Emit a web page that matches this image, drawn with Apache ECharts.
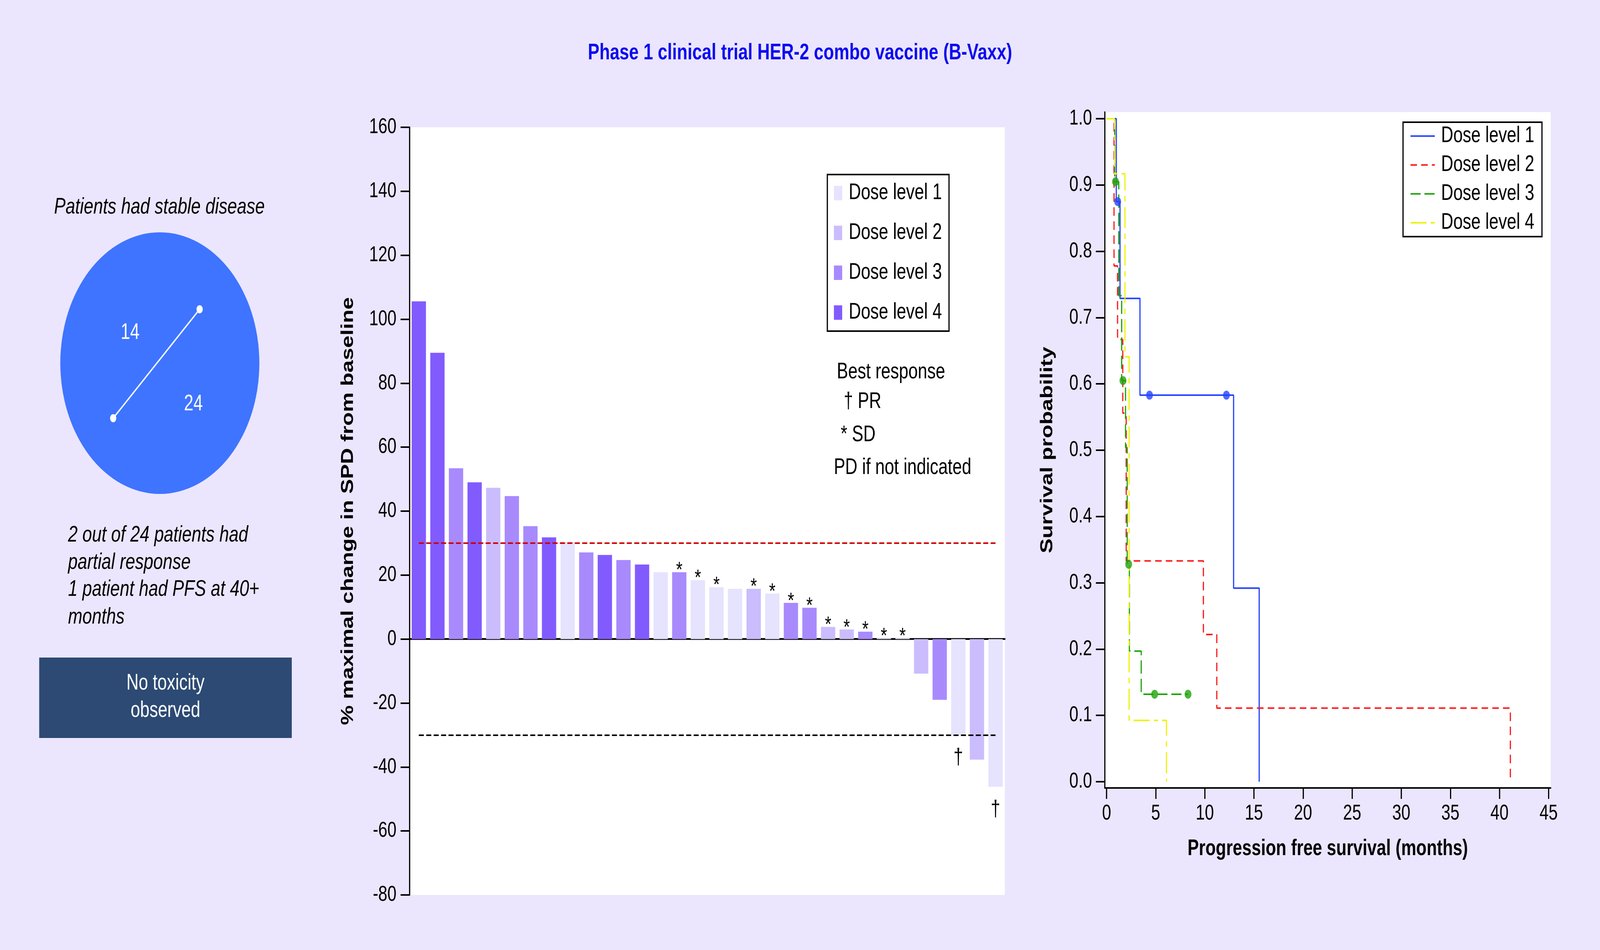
<!DOCTYPE html>
<html>
<head>
<meta charset="utf-8">
<script src="https://cdn.jsdelivr.net/npm/echarts@6/dist/echarts.min.js"></script>
<style>
html,body{margin:0;padding:0;background:#ebe6fd;overflow:hidden;}
#chart{width:5386px;height:2433px;transform-origin:0 0;}
</style>
</head>
<body>
<div id="chart"></div>
<script>
// ---------- texts ----------
const titleText = 'Phase 1 clinical trial HER-2 combo vaccine (B-Vaxx)';
const doseLabels = ['Dose level 1', 'Dose level 2', 'Dose level 3', 'Dose level 4'];
const leftHeading = 'Patients had stable disease';
const leftNotes = ['2 out of 24 patients had', 'partial response', '1 patient had PFS at 40+', 'months'];
const toxicityLines = ['No toxicity', 'observed'];
const responseKey = ['Best response', '\u2020 PR', '* SD', 'PD if not indicated'];

// ---------- left panel numbers ----------
const stableCount = 14;
const totalPatients = 24;

// ---------- waterfall data ----------
const patients = ['P1','P2','P3','P4','P5','P6','P7','P8','P9','P10','P11','P12','P13','P14','P15','P16',
                  'P17','P18','P19','P20','P21','P22','P23','P24','P25','P26','P27','P28','P29','P30','P31','P32'];
const spdChange = [105.6, 89.5, 53.4, 49.0, 47.3, 44.7, 35.3, 31.8, 30.4, 27.1, 26.3, 24.7, 23.3, 20.9, 20.9, 18.4,
                   16.2, 15.7, 15.7, 14.2, 11.3, 9.8, 3.8, 3.0, 2.3, 0.3, 0.3, -10.8, -19.0, -29.9, -37.7, -46.2];
const spdDose   = [4, 4, 3, 4, 2, 3, 3, 4, 1, 3, 4, 3, 4, 1, 3, 1,
                   1, 1, 2, 1, 3, 3, 2, 2, 3, 1, 1, 2, 3, 1, 2, 1];
const spdResponse = ['', '', '', '', '', '', '', '', '', '', '', '', '', '', '*', '*',
                     '*', '', '*', '*', '*', '*', '*', '*', '*', '*', '*', '', '', '\u2020', '', '\u2020'];
const spdThresholds = [30, -30];

// ---------- Kaplan-Meier data (PFS, months) ----------
const kmTime1 = [0, 0.99, 1.37, 3.40, 12.93, 15.54];
const kmSurv1 = [1, 0.875, 0.729, 0.583, 0.292, 0];
const kmCensT1 = [1.13, 4.37, 12.2];
const kmCensS1 = [0.875, 0.583, 0.583];

const kmTime2 = [0, 0.76, 1.12, 1.65, 2.0, 9.86, 11.22, 41.1];
const kmSurv2 = [1, 0.778, 0.667, 0.556, 0.333, 0.222, 0.111, 0];

const kmTime3 = [0, 0.82, 1.24, 1.54, 1.93, 2.1, 2.32, 3.53, 8.29];
const kmSurv3 = [1, 0.905, 0.733, 0.605, 0.504, 0.328, 0.197, 0.132, 0.132];
const kmCensT3 = [0.91, 1.67, 2.25, 4.89, 8.29];
const kmCensS3 = [0.905, 0.605, 0.328, 0.132, 0.132];

const kmTime4 = [0, 0.81, 1.87, 2.3, 6.1];
const kmSurv4 = [1, 0.917, 0.641, 0.0925, 0];

const pfsTicks = [0, 5, 10, 15, 20, 25, 30, 35, 40, 45];
const survTicks = [0, 0.1, 0.2, 0.3, 0.4, 0.5, 0.6, 0.7, 0.8, 0.9, 1.0];

// ---------- styles ----------
const FONT = '"Liberation Sans", Arial, Helvetica, sans-serif';
const BG = '#ebe6fd';
const doseBarColors = ['#e5e3fd', '#cbbdfd', '#a88afd', '#825bff'];
const kmColors = ['#2443ff', '#ff1a1a', '#1ea30a', '#eef20a'];
const kmDash = ['solid', [22, 14], [34, 13], [54, 14, 14, 14]];
const kmNames = doseLabels.map(d => d + ' (PFS)');

// fit the 5386x2433 design into whatever viewport we get
const DESIGN_W = 5386, DESIGN_H = 2433;
const chartEl = document.getElementById('chart');
const vw = window.innerWidth || document.documentElement.clientWidth || DESIGN_W;
const vh = window.innerHeight || document.documentElement.clientHeight || DESIGN_H;
chartEl.style.transform = 'scale(' + (vw / DESIGN_W) + ',' + (vh / DESIGN_H) + ')';

const chart = echarts.init(chartEl, null, {renderer: 'canvas', width: DESIGN_W, height: DESIGN_H});

// bar series: one per dose level, sharing one stack slot
const barSeries = doseLabels.map((name, d) => ({
  type: 'bar',
  name: name,
  stack: 'spd',
  xAxisIndex: 0,
  yAxisIndex: 0,
  barWidth: 48,
  itemStyle: {color: doseBarColors[d]},
  label: {
    show: true,
    color: '#000',
    fontFamily: FONT,
    formatter: p => spdResponse[p.dataIndex]
  },
  data: spdChange.map((v, i) => spdDose[i] === d + 1 ? {
    value: v,
    label: v >= 0
      ? {position: 'top', distance: 5, offset: [0, 29], fontSize: 56}
      : {position: 'bottom', distance: 30, fontSize: 58}
  } : '-'),
  markLine: d === 0 ? {
    symbol: 'none',
    silent: true,
    label: {show: false},
    lineStyle: {type: [17, 8], width: 4},
    data: [
      [{coord: [patients[0], spdThresholds[0]], lineStyle: {color: '#cc0000', type: [17, 8], width: 4}},
       {coord: [patients[patients.length - 1], spdThresholds[0]]}],
      [{coord: [patients[0], spdThresholds[1]], lineStyle: {color: '#000000', type: [17, 8], width: 4}},
       {coord: [patients[patients.length - 1], spdThresholds[1]]}]
    ]
  } : undefined
}));

const kmTimes = [kmTime1, kmTime2, kmTime3, kmTime4];
const kmSurvs = [kmSurv1, kmSurv2, kmSurv3, kmSurv4];
const kmSeries = kmTimes.map((times, k) => ({
  type: 'line',
  name: kmNames[k],
  xAxisIndex: 1,
  yAxisIndex: 1,
  step: 'end',
  symbol: 'none',
  showSymbol: false,
  silent: true,
  z: 3 + k,
  lineStyle: {color: kmColors[k], width: 4, type: kmDash[k]},
  itemStyle: {color: kmColors[k]},
  data: times.map((t, i) => [t, kmSurvs[k][i]])
}));

const censorSeries = [
  {t: kmCensT1, s: kmCensS1, c: kmColors[0]},
  {t: kmCensT3, s: kmCensS3, c: kmColors[2]}
].map((o, j) => ({
  type: 'scatter',
  name: 'censored ' + j,
  xAxisIndex: 1,
  yAxisIndex: 1,
  symbol: 'circle',
  symbolSize: 23,
  silent: true,
  z: 10,
  itemStyle: {color: o.c},
  data: o.t.map((t, i) => [t, o.s[i]])
}));

const txt = (text, x, y, font, fill, align, vAlign) => ({
  type: 'text',
  silent: true,
  style: {
    text: text, x: x, y: y, font: font, fill: fill,
    align: align, verticalAlign: vAlign,
    textAlign: align, textVerticalAlign: vAlign
  }
});

const graphics = [
  txt(titleText, 2693, 136, 'bold 58px ' + FONT, '#0a0af0', 'center', 'middle'),
  txt(leftHeading, 182, 531, 'italic 58px ' + FONT, '#000', 'left', 'middle'),
  {type: 'line', silent: true, z: 100, shape: {x1: 381, y1: 1071, x2: 672, y2: 792}, style: {stroke: '#fff', lineWidth: 4}},
  {type: 'circle', silent: true, z: 100, shape: {cx: 381, cy: 1071, r: 10.5}, style: {fill: '#fff'}},
  {type: 'circle', silent: true, z: 100, shape: {cx: 672, cy: 792, r: 10.5}, style: {fill: '#fff'}},
  Object.assign(txt(String(stableCount), 438, 852, '57px ' + FONT, '#fff', 'center', 'middle'), {z: 100}),
  Object.assign(txt(String(totalPatients), 651, 1035, '57px ' + FONT, '#fff', 'center', 'middle'), {z: 100}),
  txt(leftNotes[0], 229, 1371, 'italic 58px ' + FONT, '#000', 'left', 'middle'),
  txt(leftNotes[1], 229, 1441, 'italic 58px ' + FONT, '#000', 'left', 'middle'),
  txt(leftNotes[2], 229, 1510, 'italic 58px ' + FONT, '#000', 'left', 'middle'),
  txt(leftNotes[3], 229, 1581, 'italic 58px ' + FONT, '#000', 'left', 'middle'),
  {type: 'rect', silent: true, shape: {x: 132, y: 1684, width: 850, height: 206}, style: {fill: '#2c4a73'}},
  Object.assign(txt(toxicityLines[0], 557, 1750, '57px ' + FONT, '#fff', 'center', 'middle'), {z: 100}),
  Object.assign(txt(toxicityLines[1], 557, 1820, '57px ' + FONT, '#fff', 'center', 'middle'), {z: 100}),
  txt(responseKey[0], 2817, 953, '57px ' + FONT, '#000', 'left', 'middle'),
  txt(responseKey[1], 2840, 1029, '57px ' + FONT, '#000', 'left', 'middle'),
  txt(responseKey[2], 2830, 1114, '57px ' + FONT, '#000', 'left', 'middle'),
  txt(responseKey[3], 2807, 1198, '57px ' + FONT, '#000', 'left', 'middle')
];

const option = {
  animation: false,
  backgroundColor: BG,
  textStyle: {fontFamily: FONT, color: '#000'},
  graphic: {elements: graphics},
  legend: [
    {
      data: doseLabels,
      orient: 'vertical',
      left: 2785, top: 447,
      icon: 'rect',
      itemWidth: 28, itemHeight: 37, itemGap: 45,
      padding: [19, 24, 19, 22],
      borderColor: '#000', borderWidth: 4,
      backgroundColor: '#fff',
      selectedMode: false,
      textStyle: {fontSize: 57, color: '#000', fontFamily: FONT, padding: [0, 0, 0, 17]}
    },
    {
      data: kmNames,
      orient: 'vertical',
      left: 4723, top: 313,
      itemWidth: 82, itemHeight: 14, itemGap: 17,
      padding: [7, 26, 7, 23],
      borderColor: '#000', borderWidth: 4,
      backgroundColor: '#fff',
      selectedMode: false,
      itemStyle: {opacity: 0, borderWidth: 0},
      lineStyle: {width: 4},
      formatter: name => name.replace(' (PFS)', ''),
      textStyle: {fontSize: 57, color: '#000', fontFamily: FONT, padding: [0, 0, 0, 16]}
    }
  ],
  series: [
    {
      type: 'pie',
      silent: true,
      center: [538, 930],
      radius: [0, 335],
      label: {show: false},
      labelLine: {show: false},
      itemStyle: {color: '#3e74ff'},
      data: [{value: totalPatients, name: 'patients'}],
      z: 1
    }
  ].concat(barSeries, kmSeries, censorSeries),
  grid: [
    {left: 1378.5, top: 326, width: 2004, height: 1966, show: true, backgroundColor: '#fff', borderWidth: 0},
    {left: 3719, top: 287, width: 1501, height: 1731, show: true, backgroundColor: '#fff', borderWidth: 0}
  ],
  xAxis: [
    {
      type: 'category', gridIndex: 0, data: patients,
      axisLine: {onZero: true, lineStyle: {color: '#000', width: 4.5}},
      axisTick: {show: false}, axisLabel: {show: false}, splitLine: {show: false}
    },
    {
      type: 'value', gridIndex: 1, min: -0.18, max: 45.21,
      axisLine: {show: true, onZero: false, lineStyle: {color: '#000', width: 4}},
      axisTick: {show: true, customValues: pfsTicks, length: 28, lineStyle: {color: '#000', width: 4}},
      axisLabel: {customValues: pfsTicks, fontSize: 55, color: '#000', margin: 38, fontFamily: FONT},
      splitLine: {show: false},
      name: 'Progression free survival (months)', nameLocation: 'middle', nameGap: 128,
      nameTextStyle: {fontSize: 57, fontWeight: 'bold', color: '#000', fontFamily: FONT}
    }
  ],
  yAxis: [
    {
      type: 'value', gridIndex: 0, min: -80, max: 160, interval: 20,
      axisLine: {show: true, lineStyle: {color: '#000', width: 4}},
      axisTick: {show: true, length: 30, lineStyle: {color: '#000', width: 4}},
      axisLabel: {fontSize: 55, color: '#000', margin: 44, fontFamily: FONT},
      splitLine: {show: false},
      name: '% maximal change in SPD from baseline', nameLocation: 'middle', nameGap: 178,
      nameTextStyle: {fontSize: 57, fontWeight: 'bold', color: '#000', fontFamily: FONT}
    },
    {
      type: 'value', gridIndex: 1, min: -0.0094, max: 1.01,
      axisLine: {show: true, onZero: false, lineStyle: {color: '#000', width: 4}},
      axisTick: {show: true, customValues: survTicks, length: 30, lineStyle: {color: '#000', width: 4}},
      axisLabel: {customValues: survTicks, fontSize: 55, color: '#000', margin: 43, fontFamily: FONT,
                  formatter: v => Number(v).toFixed(1)},
      splitLine: {show: false},
      name: 'Survival probability', nameLocation: 'middle', nameGap: 164,
      nameTextStyle: {fontSize: 57, fontWeight: 'bold', color: '#000', fontFamily: FONT}
    }
  ]
};

chart.setOption(option);
</script>
</body>
</html>
